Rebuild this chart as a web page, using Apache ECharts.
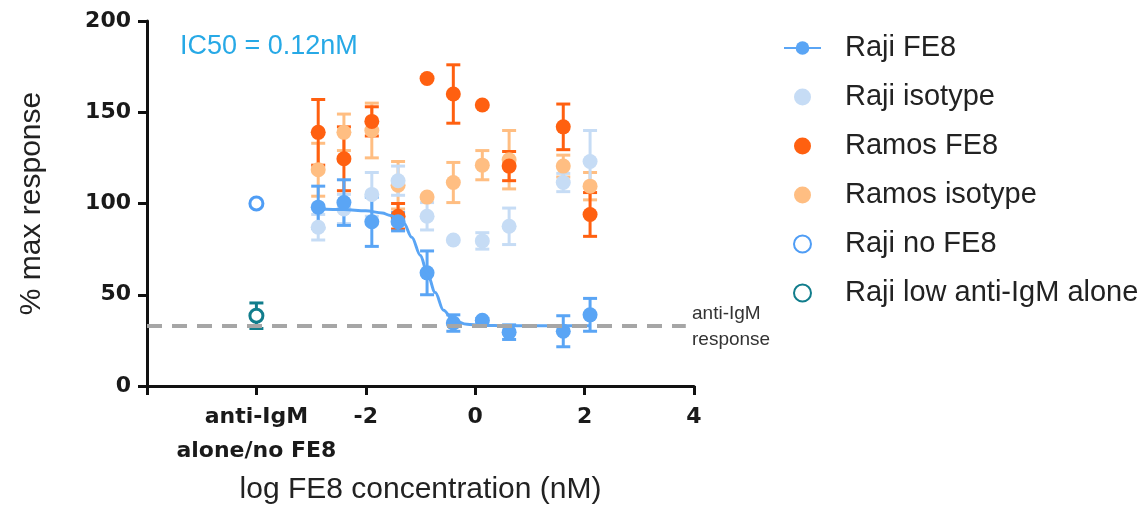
<!DOCTYPE html>
<html>
<head>
<meta charset="utf-8">
<script src="https://cdn.jsdelivr.net/npm/echarts@6/dist/echarts.min.js"></script>
<style>
html, body { margin: 0; padding: 0; background: #fff; }
#main { width: 1144px; height: 512px; }
</style>
</head>
<body>
<div id="main"></div>
<script>
// log FE8 concentration (nM) of each dose
var doses = [-2.87, -2.40, -1.89, -1.41, -0.88, -0.40, 0.13, 0.62, 1.61, 2.10];

var rajiFE8 = [98, 100.5, 90, 90, 62, 34.5, 36, 29.5, 30, 39];
var rajiFE8Err = [11.5, 12.5, 13.5, 5, 12, 4.5, 1, 4, 8.5, 9];

var rajiIso = [87, 97, 105, 112.5, 93, 80, 79.5, 87.5, 111.5, 123];
var rajiIsoErr = [7, 8, 12, 8, 7.5, 0, 4.5, 10, 5, 17];

var ramosFE8 = [139, 124.5, 145, 93, 168.5, 160, 154, 120.5, 142, 94];
var ramosFE8Err = [18, 17.5, 8, 7, 0, 16, 0, 8, 12.5, 12];

var ramosIso = [118.5, 139, 140, 110, 103.5, 111.5, 121, 124, 120.5, 109.5];
var ramosIsoErr = [14.5, 10, 15, 13, 0, 11, 8, 16, 6, 7.5];

// fitted curve for Raji FE8
var curveX = [-2.87, -2.4, -2.0, -1.7, -1.55, -1.31, -1.16, -1.0, -0.88, -0.73, -0.58, -0.4, -0.15, 0.1, 0.6, 2.1];
var curveY = [97, 96.7, 96, 94.8, 93.4, 89.4, 81.5, 71.5, 62, 51.2, 41.5, 36, 33.8, 33.2, 33, 33];

// controls plotted at the "anti-IgM alone/no FE8" position
var controlX = -4;
var rajiNoFE8 = [100];
var rajiLowIgM = [38.5];
var rajiLowIgMErr = [7];

var igmResponse = 32.8;
var xRange = [-6, 4];

var BLUE = '#5aa5f5', LIGHTBLUE = '#c6dcf5', ORANGE = '#ff6010', LIGHTORANGE = '#ffbe82',
    OPENBLUE = '#4f9df5', TEAL = '#117d8c';

function pts(xs, ys) {
    return ys.map(function (y, i) { return [xs[i], y]; });
}

function bars(xs, ys, errs) {
    var out = [];
    ys.forEach(function (y, i) {
        if (errs[i] > 0) out.push([xs[i], y - errs[i], y + errs[i]]);
    });
    return out;
}

function errorBar(color) {
    return function (params, api) {
        var x = api.value(0);
        var lo = api.coord([x, api.value(1)]);
        var hi = api.coord([x, api.value(2)]);
        var w = 7;
        var style = { stroke: color, lineWidth: 3 };
        return {
            type: 'group',
            children: [
                { type: 'line', shape: { x1: lo[0], y1: lo[1], x2: hi[0], y2: hi[1] }, style: style },
                { type: 'line', shape: { x1: lo[0] - w, y1: lo[1], x2: lo[0] + w, y2: lo[1] }, style: style },
                { type: 'line', shape: { x1: hi[0] - w, y1: hi[1], x2: hi[0] + w, y2: hi[1] }, style: style }
            ]
        };
    };
}

function barSeries(name, xs, ys, errs, color) {
    return {
        name: name + ' err',
        type: 'custom',
        renderItem: errorBar(color),
        data: bars(xs, ys, errs),
        encode: { x: 0, y: [1, 2] },
        silent: true
    };
}

function dotSeries(name, xs, ys, color) {
    return {
        name: name,
        type: 'scatter',
        symbol: 'circle',
        symbolSize: 15,
        itemStyle: { color: color, opacity: 1 },
        data: pts(xs, ys)
    };
}

var controlXs = [controlX];

var option = {
    animation: false,
    grid: { left: 147, right: 450, top: 21, bottom: 126 },
    legend: {
        orient: 'vertical',
        left: 778,
        top: 28,
        itemWidth: 37,
        itemHeight: 17,
        itemGap: 19,
        data: ['Raji FE8', 'Raji isotype', 'Ramos FE8', 'Ramos isotype', 'Raji no FE8', 'Raji low anti-IgM alone'],
        textStyle: {
            fontFamily: '"Liberation Sans", Arial, sans-serif',
            fontSize: 29,
            lineHeight: 30,
            color: '#222',
            padding: [0, 0, 0, 19]
        }
    },
    xAxis: {
        type: 'value',
        min: xRange[0],
        max: xRange[1],
        interval: 2,
        name: 'log FE8 concentration (nM)',
        nameLocation: 'middle',
        nameGap: 89,
        nameTextStyle: { fontFamily: '"Liberation Sans", Arial, sans-serif', fontSize: 30, color: '#222' },
        splitLine: { show: false },
        axisLine: { onZero: false, lineStyle: { color: '#111', width: 3 } },
        axisTick: { length: 9, lineStyle: { color: '#111', width: 3 } },
        axisLabel: {
            margin: 14,
            fontFamily: '"DejaVu Sans", sans-serif',
            fontWeight: 'bold',
            fontSize: 22,
            lineHeight: 34,
            color: '#1a1a1a',
            formatter: function (v) {
                if (v === -6) return '';
                if (v === -4) return 'anti-IgM\nalone/no FE8';
                return String(v);
            }
        }
    },
    yAxis: {
        type: 'value',
        min: 0,
        max: 200,
        interval: 50,
        name: '% max response',
        nameLocation: 'middle',
        nameGap: 100,
        nameTextStyle: { fontFamily: '"Liberation Sans", Arial, sans-serif', fontSize: 30, color: '#222' },
        splitLine: { show: false },
        axisLine: { show: true, onZero: false, lineStyle: { color: '#111', width: 3 } },
        axisTick: { show: true, length: 9, lineStyle: { color: '#111', width: 3 } },
        axisLabel: {
            margin: 16,
            fontFamily: '"DejaVu Sans", sans-serif',
            fontWeight: 'bold',
            fontSize: 22,
            color: '#1a1a1a'
        }
    },
    graphic: [
        {
            type: 'text',
            left: 180,
            top: 33,
            style: { text: 'IC50 = 0.12nM', fill: '#27a9e6', fontSize: 27, fontFamily: '"Liberation Sans", Arial, sans-serif' }
        },
        {
            type: 'text',
            left: 692,
            top: 301,
            style: { text: 'anti-IgM\nresponse', fill: '#333', fontSize: 19, lineHeight: 26, fontFamily: '"Liberation Sans", Arial, sans-serif' }
        }
    ],
    series: [
        {
            name: 'anti-IgM response',
            type: 'line',
            data: [],
            silent: true,
            markLine: {
                symbol: 'none',
                silent: true,
                label: { show: false },
                lineStyle: { color: '#a6a6a6', width: 4, type: [15, 10] },
                data: [[{ coord: [xRange[0], igmResponse] }, { coord: [3.85, igmResponse] }]]
            }
        },
        barSeries('Ramos isotype', doses, ramosIso, ramosIsoErr, LIGHTORANGE),
        dotSeries('Ramos isotype', doses, ramosIso, LIGHTORANGE),
        barSeries('Raji isotype', doses, rajiIso, rajiIsoErr, LIGHTBLUE),
        dotSeries('Raji isotype', doses, rajiIso, LIGHTBLUE),
        barSeries('Ramos FE8', doses, ramosFE8, ramosFE8Err, ORANGE),
        dotSeries('Ramos FE8', doses, ramosFE8, ORANGE),
        {
            name: 'Raji FE8',
            type: 'line',
            data: pts(curveX, curveY),
            smooth: 0.35,
            smoothMonotone: 'x',
            symbol: 'circle',
            showSymbol: false,
            lineStyle: { color: BLUE, width: 3 },
            itemStyle: { color: BLUE },
            silent: true
        },
        barSeries('Raji FE8', doses, rajiFE8, rajiFE8Err, BLUE),
        dotSeries('Raji FE8 points', doses, rajiFE8, BLUE),
        {
            name: 'Raji no FE8',
            type: 'scatter',
            symbol: 'circle',
            symbolSize: 13,
            itemStyle: { color: '#fff', borderColor: OPENBLUE, borderWidth: 3, opacity: 1 },
            data: pts(controlXs, rajiNoFE8)
        },
        barSeries('Raji low anti-IgM alone', controlXs, rajiLowIgM, rajiLowIgMErr, TEAL),
        {
            name: 'Raji low anti-IgM alone',
            type: 'scatter',
            symbol: 'circle',
            symbolSize: 13,
            itemStyle: { color: '#fff', borderColor: TEAL, borderWidth: 3, opacity: 1 },
            data: pts(controlXs, rajiLowIgM)
        }
    ]
};

var myChart = echarts.init(document.getElementById('main'));
myChart.setOption(option);
</script>
</body>
</html>
